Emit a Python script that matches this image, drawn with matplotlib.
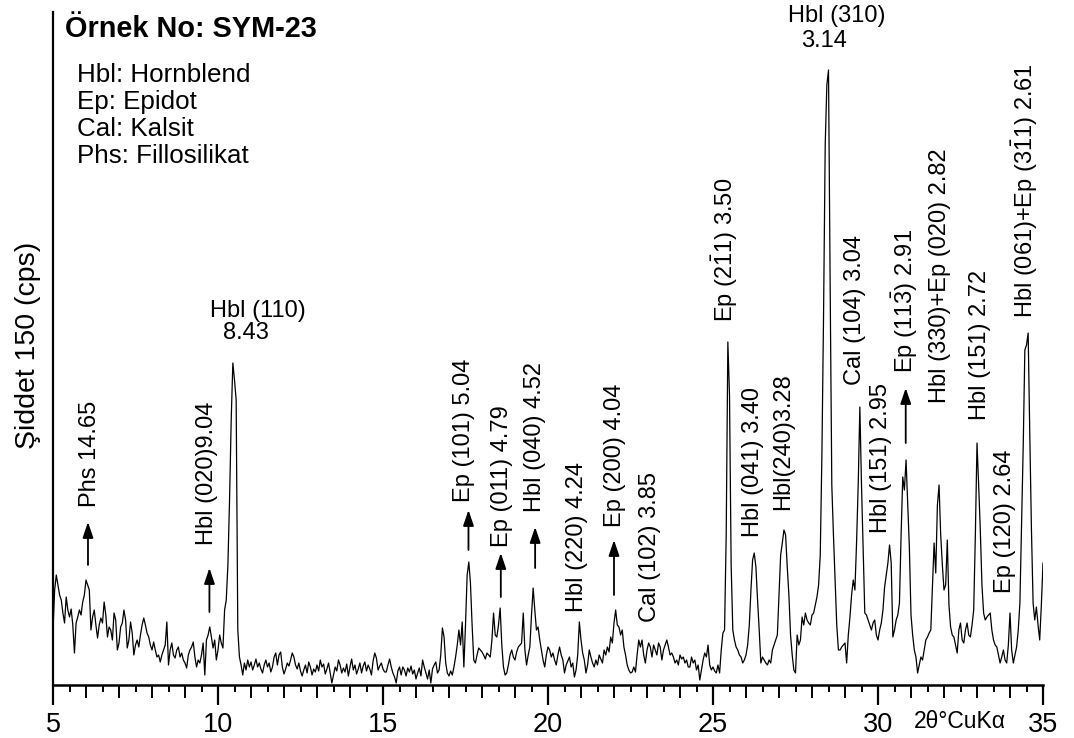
import numpy as np
import matplotlib
matplotlib.use("Agg")
import matplotlib.pyplot as plt

plt.rcParams['font.family'] = ['Liberation Sans', 'DejaVu Sans']
plt.rcParams['mathtext.fontset'] = 'custom'
plt.rcParams['mathtext.rm'] = 'Liberation Sans'
plt.rcParams['mathtext.it'] = 'Liberation Sans:italic'
plt.rcParams['mathtext.bf'] = 'Liberation Sans:bold'

# ---- scan data: intensity every 0.05 deg 2-theta, one list per 5 deg block ----
STEP = 0.05
scan_05_10 = [55, 95, 110, 100, 90, 85, 72, 62, 88, 75,
              68, 76, 60, 32, 62, 68, 75, 70, 83, 90,
              105, 100, 95, 55, 68, 75, 60, 47, 60, 67,
              62, 83, 70, 48, 58, 55, 45, 72, 65, 35,
              42, 58, 62, 75, 65, 37, 45, 63, 52, 30,
              40, 45, 38, 50, 60, 67, 60, 52, 48, 40,
              35, 43, 35, 28, 30, 23, 30, 35, 40, 63,
              20, 35, 42, 30, 27, 35, 38, 28, 32, 25,
              22, 17, 30, 35, 38, 43, 28, 18, 25, 22,
              30, 42, 10, 45, 50, 58, 48, 37, 45, 25]
scan_10_15 = [35, 50, 42, 37, 75, 85, 120, 185, 265, 322,
              305, 285, 55, 28, 20, 10, 22, 15, 25, 18,
              23, 15, 20, 26, 18, 22, 16, 12, 20, 25,
              18, 22, 13, 18, 28, 32, 20, 30, 33, 18,
              11, 16, 22, 19, 25, 32, 28, 20, 16, 22,
              14, 9, 15, 20, 12, 23, 18, 10, 16, 13,
              20, 14, 25, 18, 21, 11, 16, 22, 12, 2,
              10, 18, 14, 25, 20, 12, 17, 13, 21, 9,
              18, 26, 15, 20, 11, 16, 22, 12, 19, 23,
              14, 20, 16, 10, 24, 32, 27, 15, 19, 22]
scan_15_20 = [16, 13, 13, 20, 26, 18, 12, 8, 2, 14,
              18, 10, 18, 15, 9, 17, 13, 19, 11, 15,
              6, 12, 17, 9, 25, 18, 12, 6, 15, 2,
              16, 20, 23, 12, 15, 30, 57, 48, 22, 12,
              9, 14, 10, 18, 28, 40, 55, 40, 63, 18,
              60, 110, 123, 102, 60, 25, 22, 30, 37, 35,
              33, 30, 26, 32, 30, 28, 45, 72, 50, 48,
              60, 77, 40, 18, 10, 12, 20, 30, 35, 28,
              25, 33, 38, 40, 42, 72, 35, 20, 30, 38,
              70, 97, 75, 55, 58, 45, 35, 25, 18, 30]
scan_20_25 = [38, 35, 28, 32, 25, 20, 30, 38, 30, 25,
              12, 20, 24, 28, 18, 22, 8, 15, 30, 63,
              45, 32, 25, 12, 20, 35, 28, 22, 18, 25,
              20, 30, 26, 22, 35, 30, 38, 33, 48, 42,
              62, 75, 60, 58, 50, 55, 38, 30, 20, 15,
              12, 13, 18, 13, 30, 45, 38, 45, 30, 22,
              35, 42, 38, 28, 40, 35, 30, 42, 38, 25,
              35, 40, 45, 38, 30, 32, 28, 22, 25, 20,
              30, 26, 28, 22, 25, 18, 18, 28, 22, 25,
              15, 20, 5, 15, 25, 32, 28, 40, 20, 15]
scan_25_30 = [18, 14, 12, 20, 12, 35, 52, 55, 150, 343,
              290, 120, 55, 45, 38, 35, 30, 28, 22, 25,
              30, 40, 60, 95, 125, 132, 118, 85, 55, 22,
              28, 25, 22, 20, 25, 22, 35, 40, 45, 50,
              90, 130, 142, 155, 150, 118, 90, 50, 30, 15,
              12, 50, 40, 45, 68, 60, 72, 65, 62, 60,
              70, 72, 80, 88, 100, 130, 230, 370, 540, 600,
              615, 400, 200, 150, 105, 60, 35, 35, 38, 40,
              42, 22, 50, 68, 90, 105, 95, 142, 200, 278,
              200, 138, 72, 70, 65, 60, 55, 62, 65, 50]
scan_30_35 = [45, 55, 62, 75, 98, 110, 122, 140, 122, 48,
              55, 65, 70, 82, 150, 208, 195, 225, 180, 138,
              70, 50, 35, 28, 12, 20, 28, 25, 35, 45,
              48, 52, 55, 100, 142, 112, 180, 200, 150, 120,
              95, 100, 145, 80, 58, 50, 48, 40, 32, 55,
              62, 45, 42, 55, 62, 50, 48, 60, 75, 150,
              242, 200, 155, 100, 72, 65, 68, 70, 72, 55,
              45, 40, 38, 30, 22, 28, 35, 25, 22, 40,
              72, 35, 22, 30, 38, 55, 82, 160, 238, 335,
              340, 352, 250, 155, 82, 65, 78, 60, 45, 80,
              122]
block_starts = [5.0, 10.0, 15.0, 20.0, 25.0, 30.0]
blocks = [scan_05_10, scan_10_15, scan_15_20, scan_20_25, scan_25_30, scan_30_35]

# ---- vertical peak labels (text centre in 2-theta, text foot in counts) ----
peak_labels = ["Phs 14.65", "Hbl (020)9.04", "Ep (101) 5.04", "Ep (011) 4.79",
               "Hbl (040) 4.52", "Hbl (220) 4.24", "Ep (200) 4.04", "Cal (102) 3.85",
               r"Ep (2$\bar{1}$1) 3.50", "Hbl (041) 3.40", "Hbl(240)3.28",
               "Cal (104) 3.04", "Hbl (151) 2.95", r"Ep (11$\bar{3}$) 2.91",
               "Hbl (330)+Ep (020) 2.82", "Hbl (151) 2.72", "Ep (120) 2.64",
               r"Hbl (061)+Ep (3$\bar{1}$1) 2.61"]
peak_label_x = [6.12, 9.67, 17.46, 18.60, 19.61, 20.87, 22.03, 23.09,
                25.36, 26.22, 27.13, 29.29, 30.10, 30.82, 31.88, 33.08, 33.85, 34.45]
peak_label_foot = [178, 140, 183, 138, 173, 73, 158, 63,
                   363, 148, 175, 300, 152, 312, 282, 265, 92, 367]

# ---- arrows pointing at weak reflections ----
arrow_x = [6.06, 9.74, 17.59, 18.57, 19.61, 22.00, 30.84]
arrow_tail = [120, 73, 135, 88, 117, 90, 242]
arrow_tip = [163, 117, 175, 132, 158, 145, 297]

# ---- horizontal labels of the two strongest hornblende lines ----
top_labels = ["Hbl (110)", "8.43", "Hbl (310)", "3.14"]
top_label_x = [11.21, 10.85, 28.76, 28.36]
top_label_y = [374, 352, 669, 644]

legend_lines = ["Hbl: Hornblend", "Ep: Epidot", "Cal: Kalsit", "Phs: Fillosilikat"]

two_theta = np.concatenate([s + STEP * np.arange(len(b)) for s, b in zip(block_starts, blocks)])
counts = np.concatenate([np.asarray(b, dtype=float) for b in blocks])

W, H = 1074, 738
fig = plt.figure(figsize=(W / 100, H / 100), dpi=100)
ax = fig.add_axes([53 / W, 53 / H, 990 / W, 673 / H])

ax.plot(two_theta, counts, color='black', lw=0.9)
ax.set_xlim(5, 35)
ax.set_ylim(0, 673)

for side in ('top', 'right'):
    ax.spines[side].set_visible(False)
ax.spines['left'].set_linewidth(1.6)
ax.spines['bottom'].set_linewidth(1.8)

# x axis: labelled ticks every 5 deg, longer marks on whole degrees,
# short marks on half degrees
ax.set_yticks([])
ax.set_xticks([5, 10, 15, 20, 25, 30, 35])
whole = [v for v in range(6, 35) if v % 5]
ax.set_xticks(whole, minor=True)
ax.tick_params(axis='x', which='major', direction='out', length=14.5, width=1.6,
               labelsize=19.5, pad=5)
ax.tick_params(axis='x', which='minor', direction='out', length=9, width=1.4)

half_axis = ax.secondary_xaxis('bottom')
half_axis.spines['bottom'].set_visible(False)
half_axis.set_xticks(np.arange(5.5, 35, 1.0))
half_axis.set_xticklabels([])
half_axis.tick_params(axis='x', direction='out', length=5, width=1.4)

for txt, x, y in zip(peak_labels, peak_label_x, peak_label_foot):
    ax.text(x, y, txt, rotation=90, ha='center', va='bottom', fontsize=17)

for x, y0, y1 in zip(arrow_x, arrow_tail, arrow_tip):
    ax.annotate('', xy=(x, y1), xytext=(x, y0),
                arrowprops=dict(arrowstyle='-|>,head_length=0.5,head_width=0.17',
                                lw=1.3, color='black', mutation_scale=19,
                                shrinkA=0, shrinkB=0))

for txt, x, y in zip(top_labels, top_label_x, top_label_y):
    ax.text(x, y, txt, ha='center', va='center', fontsize=17)

fig.text(65 / W, 1 - 37 / H, "Örnek No: SYM-23", fontsize=20.8, fontweight='bold',
         ha='left', va='baseline')
for i, line in enumerate(legend_lines):
    fig.text(77 / W, 1 - (82 + 27 * i) / H, line, fontsize=18.7, ha='left', va='baseline')

fig.text(28 / W, 1 - 345 / H, "Şiddet 150 (cps)", rotation=90, fontsize=20.5,
         ha='center', va='center')
fig.text(960 / W, 1 - 721 / H, "2θ°CuKα", fontsize=16.5, ha='center', va='center')

fig.savefig('out.png', dpi=100)
